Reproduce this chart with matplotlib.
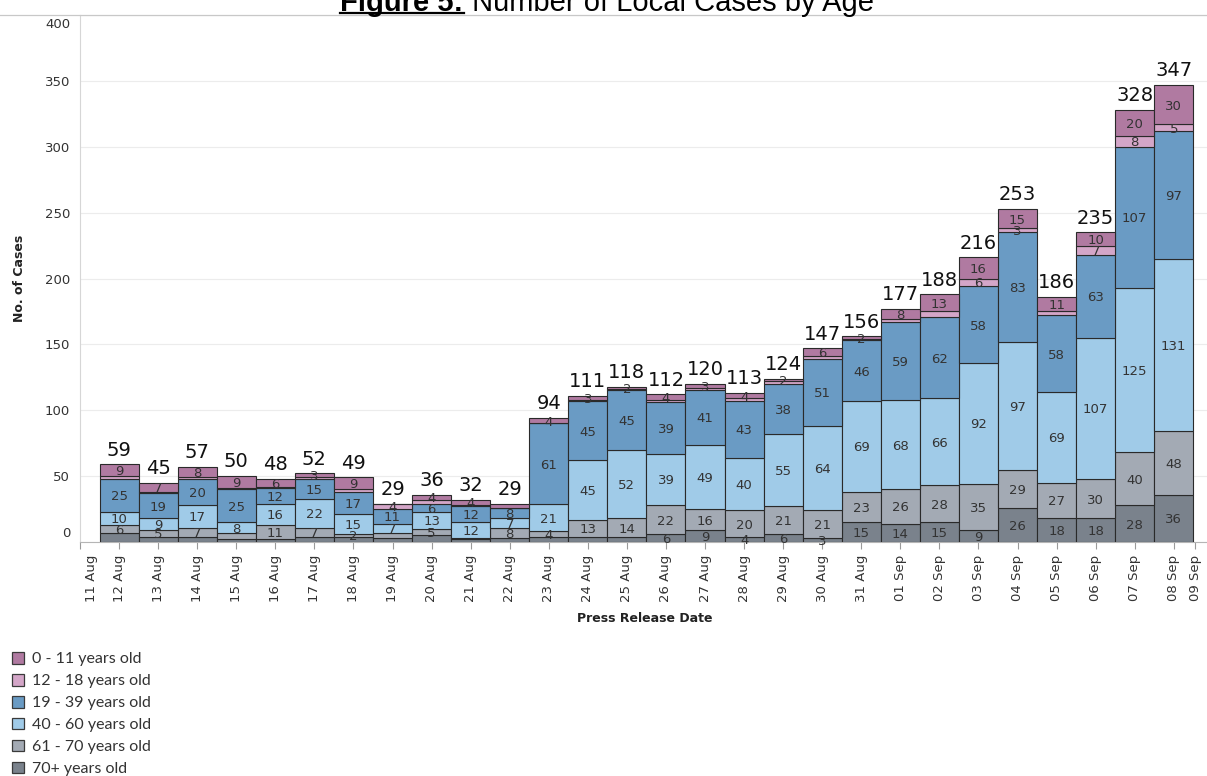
import matplotlib
matplotlib.use("Agg")
import matplotlib.pyplot as plt
import matplotlib.transforms as mtransforms
from matplotlib.patches import Patch
from matplotlib.lines import Line2D
from matplotlib.font_manager import FontProperties
import numpy as np

# ---------------- data ----------------
dates = ["12 Aug", "13 Aug", "14 Aug", "15 Aug", "16 Aug", "17 Aug", "18 Aug", "19 Aug",
         "20 Aug", "21 Aug", "22 Aug", "23 Aug", "24 Aug", "25 Aug", "26 Aug", "27 Aug",
         "28 Aug", "29 Aug", "30 Aug", "31 Aug", "01 Sep", "02 Sep", "03 Sep", "04 Sep",
         "05 Sep", "06 Sep", "07 Sep", "08 Sep"]
tick_labels = ["11 Aug"] + dates + ["09 Sep"]

age_groups = ["0 - 11 years old", "12 - 18 years old", "19 - 39 years old",
              "40 - 60 years old", "61 - 70 years old", "70+ years old"]

age_0_11 = [9, 7, 8, 9, 6, 3, 9, 0, 4, 4, 3, 4, 3, 2, 4, 3, 4, 2, 6, 2, 8, 13, 16, 15, 11, 10, 20, 30]
age_12_18 = [2, 1, 1, 1, 1, 1, 2, 4, 3, 1, 0, 0, 1, 1, 2, 2, 2, 2, 2, 1, 2, 4, 6, 3, 3, 7, 8, 5]
age_19_39 = [25, 19, 20, 25, 12, 15, 17, 11, 6, 12, 8, 61, 45, 45, 39, 41, 43, 38, 51, 46, 59, 62, 58, 83, 58, 63, 107, 97]
age_40_60 = [10, 9, 17, 8, 16, 22, 15, 7, 13, 12, 7, 21, 45, 52, 39, 49, 40, 55, 64, 69, 68, 66, 92, 97, 69, 107, 125, 131]
age_61_70 = [6, 5, 7, 5, 11, 7, 2, 4, 5, 1, 8, 4, 13, 14, 22, 16, 20, 21, 21, 23, 26, 28, 35, 29, 27, 30, 40, 48]
age_70_plus = [7, 4, 4, 2, 2, 4, 4, 3, 5, 2, 3, 4, 4, 4, 6, 9, 4, 6, 3, 15, 14, 15, 9, 26, 18, 18, 28, 36]

# which segment labels are visible in the reference (1 = shown)
show_0_11 = [1, 1, 1, 1, 1, 1, 1, 0, 1, 1, 0, 1, 1, 1, 1, 1, 1, 1, 1, 1, 1, 1, 1, 1, 1, 1, 1, 1]
show_12_18 = [0, 0, 0, 0, 0, 0, 0, 1, 0, 0, 0, 0, 0, 0, 0, 0, 0, 0, 0, 0, 0, 0, 1, 1, 0, 1, 1, 1]
show_19_39 = [1] * 28
show_40_60 = [1] * 28
show_61_70 = [1, 1, 1, 0, 1, 1, 1, 0, 1, 0, 1, 1, 1, 1, 1, 1, 1, 1, 1, 1, 1, 1, 1, 1, 1, 1, 1, 1]
show_70_plus = [0] * 14 + [1] * 14

colors = ["#b07aa1", "#d4a6c8", "#6a9bc4", "#a0cbe8", "#a3aab4", "#7a828c"]

# ---------------- figure ----------------
W, H = 1207, 776
fig = plt.figure(figsize=(W / 100, H / 100), dpi=100)
ax_left, ax_right, ax_top, ax_bottom = 80, 1207, 15, 542
ax = fig.add_axes([ax_left / W, 1 - ax_bottom / H, (ax_right - ax_left) / W, (ax_bottom - ax_top) / H])

x = np.arange(1, len(dates) + 1)
# stacking from bottom: 70+, 61-70, 40-60, 19-39, 12-18, 0-11
stack = [(age_70_plus, colors[5], show_70_plus),
         (age_61_70, colors[4], show_61_70),
         (age_40_60, colors[3], show_40_60),
         (age_19_39, colors[2], show_19_39),
         (age_12_18, colors[1], show_12_18),
         (age_0_11, colors[0], show_0_11)]

bottom = np.zeros(len(dates))
for vals, col, show in stack:
    v = np.array(vals, dtype=float)
    ax.bar(x, v, width=1.0, bottom=bottom, color=col, edgecolor="#2a2a2a", linewidth=0.8, zorder=3)
    for xi, b, val, s in zip(x, bottom, v, show):
        if s and val > 0:
            ax.text(xi, b + val / 2, f"{int(val)}", ha="center", va="center_baseline",
                    fontsize=9.5, color="#333333", family="DejaVu Sans", zorder=5)
    bottom = bottom + v

totals = bottom
for xi, t in zip(x, totals):
    ax.annotate(f"{int(t)}", (xi, t), xytext=(0, 6.3), textcoords="offset points",
                ha="center", va="baseline", fontsize=14, color="#111111", family="DejaVu Sans", zorder=6)

ax.set_xlim(0, 28.85)
ax.set_ylim(0, 400)
ax.set_yticks(np.arange(0, 401, 50))
ax.yaxis.grid(True, color="#ececec", linewidth=0.8, zorder=0)
ax.set_axisbelow(True)

tick_pos = list(range(0, 29)) + [28.55]
ax.set_xticks(tick_pos)
ax.set_xticklabels(tick_labels, rotation=90, fontsize=9.5, color="#333333", family="DejaVu Sans")
ax.tick_params(axis="x", length=5, color="#9a9a9a", width=0.8, pad=4)
ax.tick_params(axis="y", length=0, labelsize=9.5, labelcolor="#333333", pad=7)

for sp in ["top", "right"]:
    ax.spines[sp].set_visible(False)
ax.spines["left"].set_color("#d6d6d6")
ax.spines["left"].set_linewidth(0.8)
ax.spines["bottom"].set_color("#b5b5b5")
ax.spines["bottom"].set_linewidth(0.8)

# edge labels shifted inward like the reference
xl = ax.get_xticklabels()
xl[0].set_transform(xl[0].get_transform() + mtransforms.ScaledTranslation(12 / 100, 0, fig.dpi_scale_trans))
yl = ax.get_yticklabels()
yl[0].set_transform(yl[0].get_transform() + mtransforms.ScaledTranslation(0, 10 / 100, fig.dpi_scale_trans))
yl[-1].set_transform(yl[-1].get_transform() + mtransforms.ScaledTranslation(0, -8 / 100, fig.dpi_scale_trans))

# separator line across top
fig.add_artist(Line2D([0, 1], [1 - ax_top / H, 1 - ax_top / H], transform=fig.transFigure,
                      color="#c8c8c8", linewidth=0.9))

# axis titles
fig.text(20 / W, 1 - 278 / H, "No. of Cases", rotation=90, ha="center", va="center",
         fontsize=9, fontweight="bold", color="#222222", family="DejaVu Sans")
fig.text(645 / W, 1 - 618 / H, "Press Release Date", ha="center", va="center",
         fontsize=9, fontweight="bold", color="#222222", family="DejaVu Sans")

# title (partly clipped at top, as in reference)
yb = 1 - 11 / H
t1 = fig.text(0, yb, "Figure 5:", fontsize=21, fontweight="bold", family="Liberation Sans",
              va="baseline", ha="left", color="black")
t2 = fig.text(0, yb, " Number of Local Cases by Age", fontsize=21, family="Liberation Sans",
              va="baseline", ha="left", color="black")
fig.canvas.draw()
r = fig.canvas.get_renderer()
w1 = t1.get_window_extent(r).width
w2 = t2.get_window_extent(r).width
x0 = 607 - (w1 + w2) / 2
t1.set_x(x0 / W)
t2.set_x((x0 + w1) / W)
fig.add_artist(Line2D([x0 / W, (x0 + w1) / W], [1 - 13.2 / H, 1 - 13.2 / H], transform=fig.transFigure,
                      color="black", linewidth=1.6))

# legend
handles = [Patch(facecolor=c, edgecolor="#3a3a3a", linewidth=0.9) for c in colors]
fig.legend(handles, age_groups, loc="upper left", bbox_to_anchor=(12 / W, 1 - 652 / H),
           frameon=False, prop=FontProperties(family="Lato", size=11.5),
           handlelength=0.75, handleheight=0.75, handletextpad=0.5, labelspacing=0.47,
           borderpad=0, borderaxespad=0, labelcolor="#333333")

fig.savefig("out.png", dpi=100)
